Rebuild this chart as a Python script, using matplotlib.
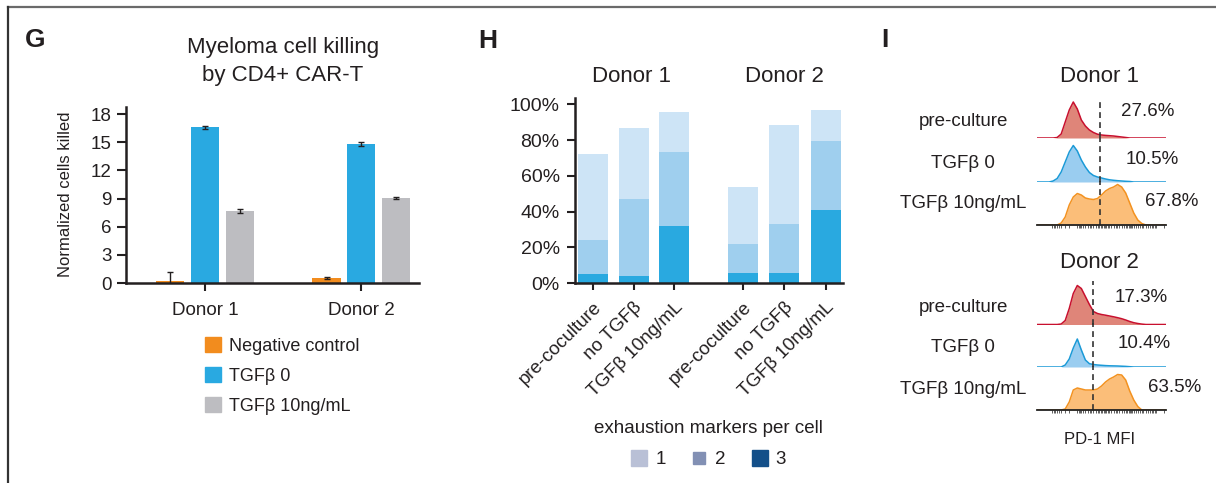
import numpy as np
import matplotlib
matplotlib.use('Agg')
import matplotlib.pyplot as plt
from matplotlib.lines import Line2D
from matplotlib.patches import Patch
from matplotlib.transforms import ScaledTranslation
from matplotlib import font_manager

plt.rcParams['font.family'] = ['Liberation Sans', 'DejaVu Sans']
TXT = '#231f20'

# --- G: killing assay (normalized cells killed) ---
donors = ['Donor 1', 'Donor 2']
g_conditions = ['Negative control', 'TGFβ 0', 'TGFβ 10ng/mL']
neg_ctrl = [0.18, 0.5]
neg_ctrl_err = [1.0, 0.1]
tgf0 = [16.6, 14.8]
tgf0_err = [0.15, 0.2]
tgf10 = [7.65, 9.04]
tgf10_err = [0.2, 0.12]

# --- H: exhaustion markers per cell (stacked %) ---
h_labels = ['pre-coculture', 'no TGFβ', 'TGFβ 10ng/mL'] * 2
markers3 = [5.0, 3.9, 31.8, 5.6, 5.6, 40.8]
markers2 = [19.0, 43.1, 41.4, 16.2, 27.4, 38.6]
markers1 = [48.0, 39.6, 22.3, 31.8, 55.3, 17.2]

# --- I: PD-1 histograms (counts per channel) ---
row_labels = ['pre-culture', 'TGFβ 0', 'TGFβ 10ng/mL']
channels = np.arange(0, 129, 4)
d1_pre = [0, 0, 0, 0, 0, 0.5, 4, 16, 28, 36, 29, 18, 12, 8, 5.5, 3.8, 3,
          2.6, 2.3, 2, 1.5, 1, 0.5, 0, 0, 0, 0, 0, 0, 0, 0, 0, 0]
d1_tgf0 = [0, 0, 0, 0, 1, 3.5, 10, 20, 30, 36.5, 31, 22, 15, 9.5, 6.5, 5, 4,
           3, 2.2, 1.7, 1.3, 1, 0.7, 0.5, 0, 0, 0, 0, 0, 0, 0, 0, 0]
d1_tgf10 = [0, 0, 0, 0, 0, 0, 2, 8, 20, 28, 31.5, 30, 27, 26, 25.5, 26.5, 30,
            34, 36.5, 38, 40.5, 38, 32, 22, 12, 5, 1.5, 0, 0, 0, 0, 0, 0]
d2_pre = [0, 0, 0, 0, 0, 0, 0.5, 4, 16, 31, 39, 36, 28, 20, 13, 11, 10, 9.3,
          8.5, 7.7, 6.8, 5.8, 4.5, 3, 1.8, 1, 0.4, 0, 0, 0, 0, 0, 0]
d2_tgf0 = [0, 0, 0, 0, 0, 0, 0, 2, 8, 19, 28, 17, 7, 3.3, 2.5, 2, 1.7, 1.4,
           1.2, 1.1, 1, 0.8, 0.6, 0.3, 0, 0, 0, 0, 0, 0, 0, 0, 0]
d2_tgf10 = [0, 0, 0, 0, 0, 0, 0, 1, 8, 20, 22, 21, 20, 20, 20, 21, 24, 28,
            31, 33, 35.5, 35, 30, 19, 10, 3.5, 0, 0, 0, 0, 0, 0, 0]
d1_pct = ['27.6%', '10.5%', '67.8%']
d2_pct = ['17.3%', '10.4%', '63.5%']
d1_gate = 63
d2_gate = 56

W, H = 1216, 483
fig = plt.figure(figsize=(W / 100, H / 100), dpi=100)


def box(x0, y0, x1, y1):
    # pixel box, origin top-left -> figure fraction
    return [x0 / W, 1 - y1 / H, (x1 - x0) / W, (y1 - y0) / H]


def fx(x):
    return x / W


def fy(y):
    return 1 - y / H


# condensed face for the axis titles if it exists
try:
    font_manager.findfont(font_manager.FontProperties(family='Liberation Sans Narrow'),
                          fallback_to_default=False)
    narrow, nsize = 'Liberation Sans Narrow', 14
except ValueError:
    narrow, nsize = 'Liberation Sans', 12

# frame lines
fig.add_artist(Line2D([fx(8), 1], [fy(7), fy(7)], color='#6a6a6a', lw=1.6,
                      transform=fig.transFigure))
fig.add_artist(Line2D([fx(8), fx(8)], [fy(7), 0], color='#333333', lw=1.6,
                      transform=fig.transFigure))

for letter, x, y in [('G', 35, 40), ('H', 488, 41), ('I', 885, 40)]:
    fig.text(fx(x), fy(y), letter, fontsize=19, fontweight='bold', color=TXT,
             ha='center', va='center')

# ================= G =================
axg = fig.add_axes(box(126, 107, 419, 283))
xg = np.arange(len(donors))
bw = 0.18
off = 0.222
axg.bar(xg - off, neg_ctrl, bw, color='#f28c1e')
axg.bar(xg, tgf0, bw, color='#29a9e1')
axg.bar(xg + off, tgf10, bw, color='#bdbdc1')
for dx, vals, errs in [(-off, neg_ctrl, neg_ctrl_err), (0, tgf0, tgf0_err), (off, tgf10, tgf10_err)]:
    axg.errorbar(xg + dx, vals, yerr=errs, fmt='none', ecolor='#231f20',
                 elinewidth=1, capsize=2, capthick=1)
axg.set_xlim(-0.506, 1.37)
axg.set_ylim(0, 18.75)
axg.set_yticks([0, 3, 6, 9, 12, 15, 18])
axg.set_xticks(xg)
axg.set_xticklabels(donors)
for s in ['top', 'right']:
    axg.spines[s].set_visible(False)
for s in ['left', 'bottom']:
    axg.spines[s].set_linewidth(1.8)
    axg.spines[s].set_color(TXT)
axg.tick_params(axis='y', length=6.5, width=1.5, pad=4, labelsize=13.5, colors=TXT)
axg.tick_params(axis='x', length=6, width=1.5, pad=8, labelsize=13.5, colors=TXT)
fig.text(fx(283), fy(48), 'Myeloma cell killing', fontsize=16, color=TXT,
         ha='center', va='center')
fig.text(fx(283), fy(76), 'by CD4+ CAR-T', fontsize=16, color=TXT,
         ha='center', va='center')
fig.text(fx(66), fy(194), 'Normalized cells killed', rotation=90, family=narrow,
         fontsize=nsize, color=TXT, ha='center', va='center')
g_handles = [Patch(color=c) for c in ['#f28c1e', '#29a9e1', '#bdbdc1']]
fig.legend(g_handles, g_conditions, loc='upper left', bbox_to_anchor=(fx(205), fy(337)),
           frameon=False, fontsize=13, handlelength=0.9, handleheight=0.9,
           handletextpad=0.45, labelspacing=0.68, borderpad=0, borderaxespad=0,
           labelcolor=TXT)

# ================= H =================
axh = fig.add_axes(box(575, 98, 843, 283.3))
xh = np.array([0, 1, 2, 3.7, 4.72, 5.74])
hw = 0.74
b2 = np.array(markers3)
b1 = b2 + np.array(markers2)
axh.bar(xh, markers3, hw, color='#29a9e0')
axh.bar(xh, markers2, hw, bottom=b2, color='#9fcfee')
axh.bar(xh, markers1, hw, bottom=b1, color='#cde4f6')
axh.set_xlim(-0.444, 6.17)
axh.set_ylim(0, 103.5)
axh.set_yticks([0, 20, 40, 60, 80, 100])
axh.set_yticklabels([f'{v}%' for v in [0, 20, 40, 60, 80, 100]])
axh.set_xticks(xh)
axh.set_xticklabels(h_labels, rotation=45, ha='right', rotation_mode='anchor')
for lbl in axh.get_xticklabels():
    lbl.set_transform(lbl.get_transform() + ScaledTranslation(4 / 72, 0, fig.dpi_scale_trans))
for s in ['top', 'right']:
    axh.spines[s].set_visible(False)
for s in ['left', 'bottom']:
    axh.spines[s].set_linewidth(1.8)
    axh.spines[s].set_color(TXT)
axh.tick_params(axis='y', length=6, width=1.5, pad=5, labelsize=14, colors=TXT)
axh.tick_params(axis='x', length=5, width=1.5, pad=6, labelsize=13.5, colors=TXT)
fig.text(fx(632), fy(77), 'Donor 1', fontsize=16, color=TXT, ha='center', va='center')
fig.text(fx(784), fy(77), 'Donor 2', fontsize=16, color=TXT, ha='center', va='center')
h_handles = [Line2D([], [], marker='s', linestyle='none', markersize=ms, color=c)
             for c, ms in [('#b9c0d6', 11.5), ('#8290b4', 9), ('#134f89', 11.5)]]
leg = fig.legend(h_handles, ['1', '2', '3'], ncol=3, loc='upper center',
                 bbox_to_anchor=(fx(708), fy(420)), frameon=False, fontsize=13.5,
                 title='exhaustion markers per cell', title_fontsize=13.5,
                 handlelength=1.0, handletextpad=0.35, columnspacing=1.3,
                 labelspacing=0.75, borderpad=0, borderaxespad=0, labelcolor=TXT)
leg.get_title().set_color(TXT)

# ================= I =================
styles = [('#c8102e', '#df8579'), ('#1b9ad7', '#9acdf0'), ('#f39220', '#fbbe79')]


def log_ticks():
    pos = []
    for d in [40, 66, 92, 118]:
        pos.append(d)
        pos += [d + np.log10(k) * 26 for k in range(2, 10)]
        pos += [d - np.log10(k) * 26 for k in range(2, 10)]
    return sorted(p for p in set(np.round(pos, 1)) if 2 <= p <= 127)


def donor_hist(bases, curves, gate, gate_top, title_y, title, pcts, pct_pos):
    for i, (base, counts) in enumerate(zip(bases, curves)):
        ax = fig.add_axes(box(1037, base - 44, 1166, base))
        edge, fill = styles[i]
        ax.fill_between(channels, counts, color=fill, lw=0)
        ax.plot(channels, counts, color=edge, lw=1.1)
        ymax = 1.0 if i else min(1.0, (base - gate_top) / 44)
        ax.axvline(gate, ymin=0, ymax=ymax, color='#333333', lw=1.2, dashes=(3.5, 2.5))
        ax.set_xlim(0, 128)
        ax.set_ylim(0, 44)
        ax.patch.set_visible(False)
        for s in ['top', 'right', 'left']:
            ax.spines[s].set_visible(False)
        ax.set_yticks([])
        if i == 2:
            ax.spines['bottom'].set_linewidth(1.3)
            ax.spines['bottom'].set_color('#222222')
            ax.set_xticks(log_ticks())
            ax.tick_params(axis='x', length=2.5, width=0.6, colors='#444444', labelbottom=False)
        else:
            ax.spines['bottom'].set_visible(False)
            ax.set_xticks([])
        fig.text(fx(963), fy(base - [17, 19, 21][i]), row_labels[i], fontsize=13.5,
                 color=TXT, ha='center', va='center')
        fig.text(fx(pct_pos[i][0]), fy(pct_pos[i][1]), pcts[i], fontsize=13.5,
                 color=TXT, ha='center', va='center')
    fig.text(fx(1099), fy(title_y), title, fontsize=16, color=TXT, ha='center', va='center')


donor_hist([138, 182, 225], [d1_pre, d1_tgf0, d1_tgf10], d1_gate, 98, 76, 'Donor 1',
           d1_pct, [(1148, 112), (1152, 159), (1172, 201)])
donor_hist([324.5, 367, 410], [d2_pre, d2_tgf0, d2_tgf10], d2_gate, 277, 263, 'Donor 2',
           d2_pct, [(1141, 297), (1144, 343), (1175, 387)])
fig.text(fx(1100), fy(439), 'PD-1 MFI', family=narrow, fontsize=nsize,
         color=TXT, ha='center', va='center')

fig.savefig('out.png', dpi=100)
